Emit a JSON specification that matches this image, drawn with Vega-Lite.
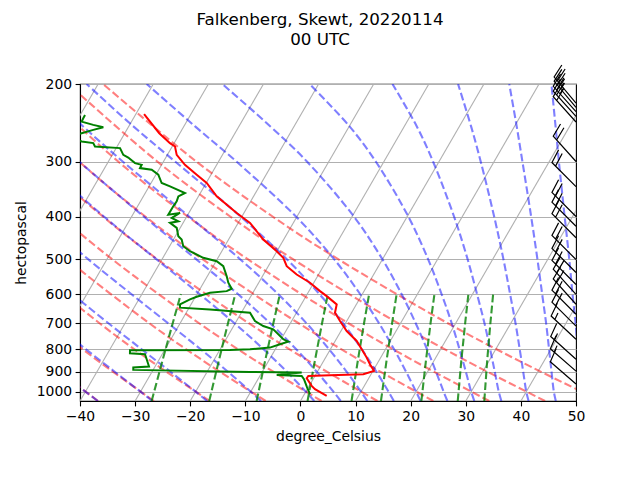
{
"$schema": "https://vega.github.io/schema/vega-lite/v6.json",
"width": 496,
"height": 317,
"autosize": {"type": "none"},
"padding": {"left": 80, "top": 84, "right": 64, "bottom": 79},
"background": "white",
"title": {"text": ["Falkenberg, Skewt, 20220114", "00 UTC"], "fontSize": 16.7, "fontWeight": "normal", "color": "#000", "anchor": "middle", "offset": 14, "lineHeight": 20, "dx": -8},
"datasets": {
"iso": [
{"T":-70,"p":1050},{"T":-70,"p":200},{"T":-60,"p":1050},{"T":-60,"p":200},{"T":-50,"p":1050},{"T":-50,"p":200},
{"T":-40,"p":1050},{"T":-40,"p":200},{"T":-30,"p":1050},{"T":-30,"p":200},{"T":-20,"p":1050},{"T":-20,"p":200},
{"T":-10,"p":1050},{"T":-10,"p":200},{"T":0,"p":1050},{"T":0,"p":200},{"T":10,"p":1050},{"T":10,"p":200},
{"T":20,"p":1050},{"T":20,"p":200},{"T":30,"p":1050},{"T":30,"p":200},{"T":40,"p":1050},{"T":40,"p":200},
{"T":50,"p":1050},{"T":50,"p":200}
],
"dry": [
{"th":233,"p":1050,"T":-36.73},{"th":233,"p":850,"T":-50.58},{"th":233,"p":700,"T":-62.59},{"th":233,"p":500,"T":-81.89},{"th":233,"p":400,"T":-93.7},{"th":233,"p":300,"T":-107.86},{"th":233,"p":200,"T":-125.94},
{"th":243,"p":1050,"T":-26.59},{"th":243,"p":850,"T":-41.03},{"th":243,"p":700,"T":-53.56},{"th":243,"p":500,"T":-73.69},{"th":243,"p":400,"T":-86.0},{"th":243,"p":300,"T":-100.77},{"th":243,"p":200,"T":-119.63},
{"th":253,"p":1050,"T":-16.45},{"th":253,"p":850,"T":-31.49},{"th":253,"p":700,"T":-44.53},{"th":253,"p":500,"T":-65.48},{"th":253,"p":400,"T":-78.31},{"th":253,"p":300,"T":-93.68},{"th":253,"p":200,"T":-113.31},
{"th":263,"p":1050,"T":-6.31},{"th":263,"p":850,"T":-21.94},{"th":263,"p":700,"T":-35.5},{"th":263,"p":500,"T":-57.28},{"th":263,"p":400,"T":-70.61},{"th":263,"p":300,"T":-86.59},{"th":263,"p":200,"T":-107.0},
{"th":273,"p":1050,"T":3.83},{"th":273,"p":850,"T":-12.39},{"th":273,"p":700,"T":-26.47},{"th":273,"p":500,"T":-49.08},{"th":273,"p":400,"T":-62.92},{"th":273,"p":300,"T":-79.5},{"th":273,"p":200,"T":-100.69},
{"th":283,"p":1050,"T":13.97},{"th":283,"p":850,"T":-2.85},{"th":283,"p":700,"T":-17.44},{"th":283,"p":500,"T":-40.88},{"th":283,"p":400,"T":-55.22},{"th":283,"p":300,"T":-72.41},{"th":283,"p":200,"T":-94.37},
{"th":293,"p":1050,"T":24.11},{"th":293,"p":850,"T":6.7},{"th":293,"p":700,"T":-8.41},{"th":293,"p":500,"T":-32.67},{"th":293,"p":400,"T":-47.53},{"th":293,"p":300,"T":-65.32},{"th":293,"p":200,"T":-88.06},
{"th":303,"p":1050,"T":34.25},{"th":303,"p":850,"T":16.25},{"th":303,"p":700,"T":0.62},{"th":303,"p":500,"T":-24.47},{"th":303,"p":400,"T":-39.83},{"th":303,"p":300,"T":-58.23},{"th":303,"p":200,"T":-81.75},
{"th":313,"p":1050,"T":44.39},{"th":313,"p":850,"T":25.79},{"th":313,"p":700,"T":9.65},{"th":313,"p":500,"T":-16.27},{"th":313,"p":400,"T":-32.13},{"th":313,"p":300,"T":-51.14},{"th":313,"p":200,"T":-75.43},
{"th":323,"p":1050,"T":54.53},{"th":323,"p":850,"T":35.34},{"th":323,"p":700,"T":18.68},{"th":323,"p":500,"T":-8.06},{"th":323,"p":400,"T":-24.44},{"th":323,"p":300,"T":-44.05},{"th":323,"p":200,"T":-69.12}
],
"moist": [
{"tw":-40,"p":1050,"T":-36.75},{"tw":-40,"p":1000,"T":-40},{"tw":-40,"p":900,"T":-46.85},{"tw":-40,"p":800,"T":-54.2},
{"tw":-30,"p":1050,"T":-26.84},{"tw":-30,"p":1000,"T":-30},{"tw":-30,"p":900,"T":-36.85},{"tw":-30,"p":800,"T":-44.45},{"tw":-30,"p":700,"T":-52.9},
{"tw":-20,"p":1050,"T":-16.92},{"tw":-20,"p":1000,"T":-20},{"tw":-20,"p":900,"T":-26.74},{"tw":-20,"p":800,"T":-34.34},{"tw":-20,"p":700,"T":-42.93},{"tw":-20,"p":600,"T":-52.67},
{"tw":-10,"p":1050,"T":-7.15},{"tw":-10,"p":1000,"T":-10},{"tw":-10,"p":900,"T":-16.3},{"tw":-10,"p":800,"T":-23.62},{"tw":-10,"p":700,"T":-32.1},{"tw":-10,"p":600,"T":-41.94},{"tw":-10,"p":500,"T":-53.43},{"tw":-10,"p":400,"T":-66.85},
{"tw":0,"p":1050,"T":2.51},{"tw":0,"p":1000,"T":0},{"tw":0,"p":900,"T":-5.61},{"tw":0,"p":800,"T":-12.2},{"tw":0,"p":700,"T":-20.06},{"tw":0,"p":600,"T":-29.55},{"tw":0,"p":500,"T":-41.05},{"tw":0,"p":400,"T":-55.05},{"tw":0,"p":300,"T":-72.07},
{"tw":5,"p":1050,"T":7.32},{"tw":5,"p":1000,"T":5},{"tw":5,"p":900,"T":-0.18},{"tw":5,"p":800,"T":-6.27},{"tw":5,"p":700,"T":-13.59},{"tw":5,"p":600,"T":-22.59},{"tw":5,"p":500,"T":-33.83},{"tw":5,"p":400,"T":-47.81},{"tw":5,"p":300,"T":-65.35},
{"tw":10,"p":1050,"T":12.13},{"tw":10,"p":1000,"T":10},{"tw":10,"p":900,"T":5.26},{"tw":10,"p":800,"T":-0.3},{"tw":10,"p":700,"T":-7.0},{"tw":10,"p":600,"T":-15.29},{"tw":10,"p":500,"T":-25.85},{"tw":10,"p":400,"T":-39.58},{"tw":10,"p":300,"T":-57.41},{"tw":10,"p":250,"T":-68.2},{"tw":10,"p":200,"T":-80.84},
{"tw":15,"p":1050,"T":16.95},{"tw":15,"p":1000,"T":15},{"tw":15,"p":900,"T":10.67},{"tw":15,"p":800,"T":5.65},{"tw":15,"p":700,"T":-0.38},{"tw":15,"p":600,"T":-7.8},{"tw":15,"p":500,"T":-17.38},{"tw":15,"p":400,"T":-30.25},{"tw":15,"p":300,"T":-47.91},{"tw":15,"p":250,"T":-59.08},{"tw":15,"p":200,"T":-72.1},
{"tw":20,"p":1050,"T":21.79},{"tw":20,"p":1000,"T":20},{"tw":20,"p":900,"T":16.05},{"tw":20,"p":800,"T":11.5},{"tw":20,"p":700,"T":6.14},{"tw":20,"p":600,"T":-0.42},{"tw":20,"p":500,"T":-8.79},{"tw":20,"p":400,"T":-20.2},{"tw":20,"p":300,"T":-36.78},{"tw":20,"p":250,"T":-47.88},{"tw":20,"p":200,"T":-61.2},
{"tw":25,"p":1050,"T":26.66},{"tw":25,"p":1000,"T":25},{"tw":25,"p":900,"T":21.49},{"tw":25,"p":800,"T":17.49},{"tw":25,"p":700,"T":12.79},{"tw":25,"p":600,"T":7.11},{"tw":25,"p":500,"T":-0.04},{"tw":25,"p":400,"T":-9.68},{"tw":25,"p":300,"T":-23.98},{"tw":25,"p":250,"T":-34.22},{"tw":25,"p":200,"T":-47.49},
{"tw":30,"p":1050,"T":31.55},{"tw":30,"p":1000,"T":30},{"tw":30,"p":900,"T":26.91},{"tw":30,"p":800,"T":23.39},{"tw":30,"p":700,"T":19.32},{"tw":30,"p":600,"T":14.37},{"tw":30,"p":500,"T":8.26},{"tw":30,"p":400,"T":0.19},{"tw":30,"p":300,"T":-11.49},{"tw":30,"p":250,"T":-19.87},{"tw":30,"p":200,"T":-31.64},
{"tw":35,"p":1050,"T":36.46},{"tw":35,"p":1000,"T":35},{"tw":35,"p":900,"T":32.16},{"tw":35,"p":800,"T":28.95},{"tw":35,"p":700,"T":25.26},{"tw":35,"p":600,"T":20.8},{"tw":35,"p":500,"T":15.43},{"tw":35,"p":400,"T":8.49},{"tw":35,"p":300,"T":-1.1},{"tw":35,"p":250,"T":-7.68},{"tw":35,"p":200,"T":-16.6},
{"tw":40,"p":1050,"T":41.4},{"tw":40,"p":1000,"T":40},{"tw":40,"p":900,"T":37.32},{"tw":40,"p":800,"T":34.32},{"tw":40,"p":700,"T":30.89},{"tw":40,"p":600,"T":26.8},{"tw":40,"p":500,"T":21.93},{"tw":40,"p":400,"T":15.77},{"tw":40,"p":300,"T":7.55},{"tw":40,"p":250,"T":2.16},{"tw":40,"p":200,"T":-4.7},
{"tw":45,"p":1050,"T":46.34},{"tw":45,"p":1000,"T":45},{"tw":45,"p":900,"T":42.46},{"tw":45,"p":800,"T":39.65},{"tw":45,"p":700,"T":36.44},{"tw":45,"p":600,"T":32.62},{"tw":45,"p":500,"T":28.1},{"tw":45,"p":400,"T":22.48},{"tw":45,"p":300,"T":15.12},{"tw":45,"p":250,"T":10.43},{"tw":45,"p":200,"T":4.59},
{"tw":50,"p":1050,"T":51.34},{"tw":50,"p":1000,"T":50},{"tw":50,"p":900,"T":47.55},{"tw":50,"p":800,"T":44.86},{"tw":50,"p":700,"T":41.78},{"tw":50,"p":600,"T":38.13},{"tw":50,"p":500,"T":33.88},{"tw":50,"p":400,"T":28.56},{"tw":50,"p":300,"T":21.74},{"tw":50,"p":250,"T":17.48},{"tw":50,"p":200,"T":12.24}
],
"mix": [
{"w":0.4,"p":1050,"T":-27.0},{"w":0.4,"p":850,"T":-29.28},{"w":0.4,"p":700,"T":-31.33},{"w":0.4,"p":600,"T":-32.93},
{"w":1,"p":1050,"T":-16.55},{"w":1,"p":850,"T":-19.05},{"w":1,"p":700,"T":-21.3},{"w":1,"p":600,"T":-23.05},
{"w":2,"p":1050,"T":-7.95},{"w":2,"p":850,"T":-10.65},{"w":2,"p":700,"T":-13.07},{"w":2,"p":600,"T":-14.96},
{"w":4,"p":1050,"T":1.29},{"w":4,"p":850,"T":-1.62},{"w":4,"p":700,"T":-4.23},{"w":4,"p":600,"T":-6.26},
{"w":7,"p":1050,"T":9.27},{"w":7,"p":850,"T":6.17},{"w":7,"p":700,"T":3.39},{"w":7,"p":600,"T":1.23},
{"w":10,"p":1050,"T":14.61},{"w":10,"p":850,"T":11.38},{"w":10,"p":700,"T":8.48},{"w":10,"p":600,"T":6.22},
{"w":16,"p":1050,"T":21.94},{"w":16,"p":850,"T":18.53},{"w":16,"p":700,"T":15.46},{"w":16,"p":600,"T":13.08},
{"w":24,"p":1050,"T":28.54},{"w":24,"p":850,"T":24.95},{"w":24,"p":700,"T":21.74},{"w":24,"p":600,"T":19.24},
{"w":32,"p":1050,"T":33.36},{"w":32,"p":850,"T":29.64},{"w":32,"p":700,"T":26.32},{"w":32,"p":600,"T":23.73}
],
"temp": [
{"p":234.2,"T":-58.5},{"p":258.7,"T":-53.75},{"p":272.5,"T":-50.76},{"p":277.4,"T":-49.49},{"p":289.7,"T":-48.31},{"p":305.2,"T":-45.77},{"p":321.5,"T":-42.59},{"p":335.7,"T":-39.91},{"p":360.0,"T":-36.69},{"p":392.6,"T":-31.32},{"p":413.6,"T":-27.86},{"p":451.3,"T":-23.7},{"p":479.7,"T":-20.04},{"p":496.5,"T":-18.15},{"p":518.7,"T":-16.65},{"p":541.7,"T":-13.97},{"p":565.6,"T":-10.69},{"p":591.0,"T":-7.99},{"p":606.6,"T":-6.25},{"p":633.4,"T":-3.57},{"p":661.5,"T":-3.01},{"p":691.1,"T":-1.22},{"p":728.1,"T":1.04},{"p":767.1,"T":3.9},{"p":801.0,"T":5.68},{"p":836.5,"T":7.45},{"p":866.2,"T":8.75},{"p":897.0,"T":10.19},{"p":912.6,"T":8.59},{"p":917.4,"T":2.65},{"p":920.8,"T":-1.21},{"p":931.9,"T":-1.26},{"p":970.1,"T":0.45},{"p":986.9,"T":1.39},{"p":1022,"T":4.22}
],
"dew": [
{"p":235.1,"T":-69.14},{"p":239.2,"T":-69.11},{"p":243.5,"T":-69.04},{"p":247.7,"T":-66.6},{"p":250.7,"T":-64.53},{"p":254.2,"T":-66.07},{"p":258.7,"T":-67.83},{"p":263.7,"T":-69.56},{"p":270.2,"T":-66.95},{"p":272.5,"T":-64.68},{"p":277.4,"T":-64.01},{"p":279.7,"T":-59.3},{"p":289.7,"T":-58.0},{"p":293.8,"T":-56.82},{"p":302.5,"T":-55.01},{"p":305.2,"T":-53.62},{"p":310.5,"T":-53.58},{"p":313.2,"T":-51.28},{"p":321.5,"T":-49.56},{"p":335.7,"T":-48.08},{"p":341.7,"T":-46.21},{"p":353.7,"T":-42.8},{"p":360.0,"T":-43.65},{"p":369.6,"T":-43.42},{"p":379.3,"T":-43.52},{"p":396.1,"T":-43.56},{"p":392.6,"T":-41.61},{"p":403.0,"T":-42.59},{"p":410.2,"T":-41.04},{"p":413.6,"T":-42.38},{"p":424.6,"T":-40.63},{"p":443.6,"T":-39.46},{"p":451.3,"T":-38.51},{"p":467.3,"T":-37.52},{"p":479.7,"T":-35.77},{"p":496.5,"T":-32.67},{"p":505.4,"T":-29.88},{"p":518.7,"T":-28.16},{"p":546.5,"T":-26.49},{"p":565.6,"T":-25.51},{"p":583.6,"T":-24.26},{"p":591.0,"T":-24.92},{"p":595.9,"T":-27.79},{"p":608.5,"T":-29.78},{"p":617.1,"T":-30.71},{"p":633.4,"T":-32.0},{"p":644.4,"T":-31.65},{"p":650.2,"T":-26.04},{"p":661.5,"T":-18.43},{"p":691.1,"T":-16.65},{"p":709.4,"T":-14.62},{"p":721.7,"T":-12.46},{"p":760.3,"T":-9.59},{"p":769.5,"T":-8.44},{"p":780.4,"T":-9.67},{"p":794.0,"T":-11.14},{"p":801.0,"T":-14.59},{"p":804.0,"T":-18.14},{"p":805.3,"T":-36.26},{"p":817.9,"T":-35.95},{"p":822.2,"T":-33.12},{"p":843.9,"T":-32.29},{"p":876.7,"T":-31.1},{"p":881.2,"T":-33.85},{"p":892.3,"T":-33.6},{"p":901.7,"T":-12.21},{"p":904.5,"T":-2.77},{"p":915.9,"T":-7.05},{"p":920.8,"T":-2.41},{"p":936.7,"T":-1.65},{"p":976.7,"T":-0.27},{"p":1013,"T":1.01}
],
"wind": [
{"p":221,"dir":320,"spd":"25"},{"p":226,"dir":320,"spd":"25"},{"p":231,"dir":318,"spd":"25"},{"p":237,"dir":318,"spd":"20"},{"p":244,"dir":318,"spd":"20"},{"p":300,"dir":318,"spd":"20"},{"p":342,"dir":315,"spd":"20"},{"p":400,"dir":315,"spd":"20"},{"p":421,"dir":315,"spd":"20"},{"p":447,"dir":315,"spd":"20"},{"p":501,"dir":315,"spd":"20"},{"p":536,"dir":315,"spd":"20"},{"p":571,"dir":315,"spd":"20"},{"p":601,"dir":318,"spd":"20"},{"p":633,"dir":318,"spd":"20"},{"p":667,"dir":315,"spd":"20"},{"p":710,"dir":315,"spd":"20"},{"p":760,"dir":313,"spd":"15"},{"p":844,"dir":312,"spd":"15"},{"p":898,"dir":311,"spd":"15"},{"p":961,"dir":311,"spd":"10"}
]
},
"encoding": {
"x": {"field": "xs", "type": "quantitative", "scale": {"domain": [-40, 50], "nice": false, "zero": false},
 "axis": {"title": "degree_Celsius", "values": [-40,-30,-20,-10,0,10,20,30,40,50], "format": "d", "grid": false, "labelFlush": false, "titlePadding": 6}},
"y": {"field": "p", "type": "quantitative", "scale": {"type": "log", "domain": [200, 1050], "reverse": true, "nice": false},
 "axis": {"title": "hectopascal", "values": [200,300,400,500,600,700,800,900,1000], "format": "d", "grid": true, "labelFlush": false, "titlePadding": 8}}
},
"layer": [
{"data": {"name": "iso"}, "transform": [{"calculate": "datum.T + 20.08 * log(1050 / datum.p)", "as": "xs"}],
 "mark": {"type": "line", "color": "#b0b0b0", "strokeWidth": 1.1, "clip": true},
 "encoding": {"detail": {"field": "T", "type": "nominal"}, "order": {"value": null}}},
{"data": {"name": "dry"}, "transform": [{"calculate": "datum.T + 20.08 * log(1050 / datum.p)", "as": "xs"}],
 "mark": {"type": "line", "color": "#ff0000", "opacity": 0.5, "strokeWidth": 2.1, "strokeDash": [7.7, 3.3], "interpolate": "catmull-rom", "clip": true},
 "encoding": {"detail": {"field": "th", "type": "nominal"}, "order": {"value": null}}},
{"data": {"name": "moist"}, "transform": [{"calculate": "datum.T + 20.08 * log(1050 / datum.p)", "as": "xs"}],
 "mark": {"type": "line", "color": "#0000ff", "opacity": 0.5, "strokeWidth": 2.1, "strokeDash": [7.7, 3.3], "interpolate": "catmull-rom", "clip": true},
 "encoding": {"detail": {"field": "tw", "type": "nominal"}, "order": {"value": null}}},
{"data": {"name": "mix"}, "transform": [{"calculate": "datum.T + 20.08 * log(1050 / datum.p)", "as": "xs"}],
 "mark": {"type": "line", "color": "#008000", "opacity": 0.8, "strokeWidth": 2.1, "strokeDash": [7.7, 3.3], "clip": true},
 "encoding": {"detail": {"field": "w", "type": "nominal"}, "order": {"value": null}}},
{"data": {"name": "temp"}, "transform": [{"calculate": "datum.T + 20.08 * log(1050 / datum.p)", "as": "xs"}],
 "mark": {"type": "line", "color": "#ff0000", "strokeWidth": 2, "clip": true},
 "encoding": {"order": {"value": null}}},
{"data": {"name": "dew"}, "transform": [{"calculate": "datum.T + 20.08 * log(1050 / datum.p)", "as": "xs"}],
 "mark": {"type": "line", "color": "#008000", "strokeWidth": 2, "clip": true},
 "encoding": {"order": {"value": null}}},
{"data": {"name": "wind"},
 "mark": {"type": "point", "filled": false, "stroke": "#000", "strokeWidth": 1.2, "size": 4624, "opacity": 1},
 "encoding": {
  "x": {"value": {"expr": "width"}},
  "shape": {"field": "spd", "type": "nominal", "legend": null,
   "scale": {"domain": ["10","15","20","25","30","35","40"],
    "range": ["M0,0L0,-1L0.4,-1.125",
     "M0,0L0,-1L0.4,-1.125M0,-0.85L0.2,-0.9125",
     "M0,0L0,-1L0.4,-1.125M0,-0.85L0.4,-0.975",
     "M0,0L0,-1L0.4,-1.125M0,-0.85L0.4,-0.975M0,-0.7L0.2,-0.7625",
     "M0,0L0,-1L0.4,-1.125M0,-0.85L0.4,-0.975M0,-0.7L0.4,-0.825",
     "M0,0L0,-1L0.4,-1.125M0,-0.85L0.4,-0.975M0,-0.7L0.4,-0.825M0,-0.55L0.2,-0.6125",
     "M0,0L0,-1L0.4,-1.125M0,-0.85L0.4,-0.975M0,-0.7L0.4,-0.825M0,-0.55L0.4,-0.675"]}},
  "angle": {"field": "dir", "type": "quantitative", "scale": {"domain": [0, 360], "range": [0, 360]}, "legend": null}
 }}
],
"config": {
 "font": "DejaVu Sans",
 "view": {"stroke": "#000", "strokeWidth": 1.1},
 "axis": {"labelFont": "DejaVu Sans", "titleFont": "DejaVu Sans", "labelFontSize": 13.9, "titleFontSize": 13.9, "titleFontWeight": "normal", "labelColor": "#000", "titleColor": "#000", "domainColor": "#000", "domainWidth": 1.1, "tickColor": "#000", "tickWidth": 1.1, "tickSize": 4.9, "labelPadding": 3.5, "gridColor": "#b0b0b0", "gridWidth": 1.1, "gridOpacity": 1}
}
}
